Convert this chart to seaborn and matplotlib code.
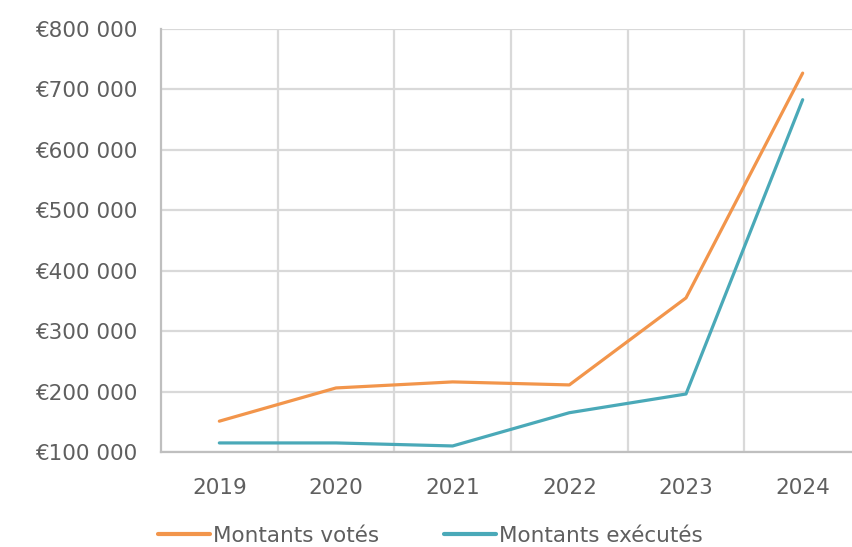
import matplotlib
matplotlib.use("Agg")
import matplotlib.pyplot as plt
import seaborn as sns
import pandas as pd
from matplotlib.ticker import FuncFormatter, FixedLocator

years = ["2019", "2020", "2021", "2022", "2023", "2024"]
votes = [151000, 206000, 216000, 211000, 355000, 727000]
executes = [115000, 115000, 110000, 165000, 196000, 683000]
series_names = ["Montants votés", "Montants exécutés"]
colors = ["#F2954B", "#4AA9B8"]

df = pd.DataFrame({
    "Année": years * 2,
    "Montant": votes + executes,
    "Série": [series_names[0]] * len(years) + [series_names[1]] * len(years),
})

sns.set_theme(style="white")
plt.rcParams["font.family"] = ["DejaVu Sans"]

fig = plt.figure(figsize=(8.52, 5.47), dpi=100)
ax = fig.add_axes([161 / 852, 95 / 547, 700 / 852, 423 / 547])

sns.lineplot(data=df, x="Année", y="Montant", hue="Série", palette=colors,
             linewidth=2.3, ax=ax, legend=True, sort=False)

ax.set_xlim(-0.5, 5.5)
ax.set_ylim(100000, 800000)
ax.set_yticks(range(100000, 800001, 100000))
ax.yaxis.set_major_formatter(FuncFormatter(lambda v, p: "€" + f"{int(v):,}".replace(",", " ")))
ax.xaxis.set_minor_locator(FixedLocator([0.5, 1.5, 2.5, 3.5, 4.5]))
ax.grid(True, axis="y", color="#D9D9D9", linewidth=1.6)
ax.grid(True, axis="x", which="minor", color="#D9D9D9", linewidth=1.6)
ax.grid(False, axis="x", which="major")
ax.set_axisbelow(True)
for s in ["top", "right"]:
    ax.spines[s].set_visible(False)
for s in ["left", "bottom"]:
    ax.spines[s].set_color("#BFBFBF")
    ax.spines[s].set_linewidth(1.6)
ax.tick_params(axis="both", which="both", length=0, labelsize=15.5, colors="#5F5F5F")
ax.tick_params(axis="y", pad=17)
ax.tick_params(axis="x", pad=19)
ax.set_xlabel("")
ax.set_ylabel("")

leg = ax.legend(loc="upper center", bbox_to_anchor=(0.385, -0.128),
                ncol=2, frameon=False, fontsize=15.5, handlelength=2.4, handletextpad=0.15,
                columnspacing=3.0, labelcolor="#5F5F5F")
for line in leg.get_lines():
    line.set_linewidth(3)

fig.savefig("out.png", dpi=100)
